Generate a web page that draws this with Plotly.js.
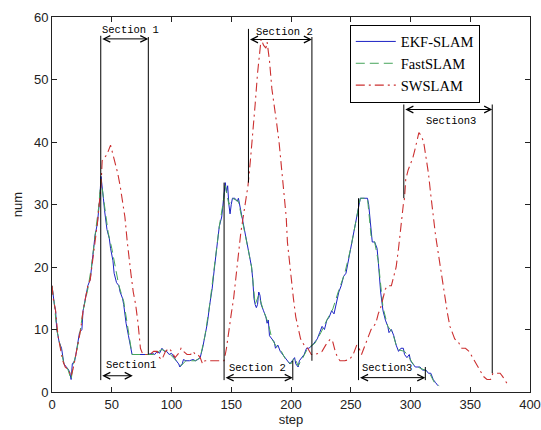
<!DOCTYPE html>
<html>
<head>
<meta charset="utf-8">
<script src="https://cdn.plot.ly/plotly-3.0.1.min.js"></script>
<style>html,body{margin:0;padding:0;background:#fff}#chart{width:541px;height:430px}</style>
</head>
<body>
<div id="chart"></div>
<script>
// ---- data ----
const ekfSteps = [0,1,2,3,4,5,6,8,9,10,12,14,15,16,17,19,20,22,23,25,26,28,30,32,33,35,36,38,39,40,41,42,43,44,45,46,48,49,51,52,54,56,57,59,60,61,62,64,66,67,70,75,80,84,86,88,90,92,94,96,98,100,102,104,106,107,109,110,112,115,118,120,122,124,126,128,130,132,134,136,138,139,140,142,143,144,145,146,147,148,149,150,151,153,155,156,158,160,162,164,166,167,168,169,170,171,172,173,174,175,177,179,180,181,182,184,186,187,189,191,193,195,197,199,201,203,204,206,207,209,211,213,215,218,220,222,224,226,228,230,232,234,236,238,240,242,244,246,248,250,252,254,256,257,258,260,262,264,265,266,267,268,270,272,273,274,275,276,277,279,281,282,284,286,288,290,292,294,295,297,299,300,302,304,308,310,313,315,317,319,321,323];
const ekfValues = [17,15,14,13,10,9,8,7,5.5,4.5,4,3.5,3,2,4.5,5,6,8,9.5,10,13,15,17,18,20,23,25,27,29,31,34.5,33,31,29,27,26,24.5,23,21,19,17.5,17,16,15,14,12.5,11,9,7,6,6,6,6,6.2,6,6.5,6.2,7,6.5,6.5,6,6.2,5.5,5,4.5,4,4.5,5.2,5,5,5.2,5,5.2,5.5,7,9,11,14,16.5,20,23,25,26.5,28,30,32,33.5,32,33,30,28.5,30,31,31,30.5,31,29,27,25,23,21,20,18,15,14,13.5,14,16,15.5,14,13,12,11,11.5,9,8.5,8,7,7.5,6.5,6,5.5,5,4.5,5,5.5,4.5,4,5,5.5,6,7,7,7.5,8,8.5,9.5,10.5,10,11.5,12,13,12.5,14.5,16,17,18.5,19,21,23,25,27,28.5,30,31,31,31,31,30,28,25,24,24,23,21,18,16,14.5,13,11.5,10.5,9.5,10,9,7.5,6.5,7,7,6,5.5,6,5,4.5,4,4,3.5,3.5,3,3,2,1.5,1];

const fastSteps = [0,2,4,6,8,10,13,16,18,20,23,26,30,33,36,39,41,44,47,50,53,56,60,63,67,75,85,92,98,104,108,112,120,124,128,132,136,140,143,145,148,151,156,160,164,167,170,173,177,181,184,187,192,196,200,203,206,210,214,220,225,230,235,240,245,250,254,258,264,267,270,273,277,281,285,288,291,295,299,302,306,312,316,320,324];
const fastValues = [17,14,10,8,6.5,4.5,3.8,2,4.5,6,9,13,16.5,20,25,29.5,34,29.5,25.5,23,20,17,14.5,10.5,6,6,6,6.8,6.2,5,4.2,5,5,5.5,9,14,20,26.5,30,33,30,31,30.5,27,23,20,14,15.5,13,11,8.5,7.5,6.5,5,4.5,5.5,4.2,5.5,7,7.8,9.5,11.5,13.3,16.3,19,23,27,31,31,25,24,21,13.5,10.5,9.5,7.5,6.7,6.5,5.5,4.5,4,3.5,3,1.5,1];

const swSteps = [0,1,3,5,7,9,11,14,16,18,20,22,24,26,28,30,32,34,36,38,40,41,42,44,46,47,49,51,53,55,57,59,61,63,64,66,68,70,72,73,74,76,79,82,85,88,90,92,95,98,100,103,106,108,110,113,116,118,120,122,124,126,128,131,134,138,141,144,146,148,150,152,154,156,158,160,162,164,166,168,170,172,174,175,177,179,180,182,184,186,188,190,192,194,196,197,198,200,202,204,206,208,211,214,217,220,223,226,229,231,233,235,237,239,241,245,249,252,255,257,259,261,263,265,267,269,271,273,275,277,279,281,284,286,288,290,292,294,295,296,298,300,302,304,306,307,309,311,313,315,317,319,321,323,325,327,329,331,333,335,337,340,343,346,349,352,355,358,361,364,367,369,372,375,377,380,382];
const swValues = [17,15,13,9,7,5,4,3.5,2.5,4,6,8,10,13,15,17,18,21,24,27,31,33,37,37.5,38,38.5,39.5,38,36.5,35,33,30.5,28,24,22,19,16,14,11,9,7,6,6,6,6.5,6.5,5.5,5.2,6.5,7,6.5,5.5,6.2,7,6.5,6,6,6.5,6,6,5.5,4.5,5,5,5,5,5,5,7,10,12.5,15,19,22,25.5,28,30,33,37,41,46,51,55,56.5,55.5,55,56,53,48.5,46,43,40,36,32,28,24,22,19,15,12,10,8.5,7.5,7,6,6,6.2,6.5,7.5,8,8.5,8,6.5,5.5,5,5,5.2,6,7.5,7,6,7,8,9,10,10.5,11,12.5,13.5,15,16.5,17,17,18.5,20,23,27,30,31,34,35.5,36.5,37.5,39,40.5,41.5,41,40,37.5,35,31.5,28,25,22.5,20,17,14.5,12.5,10.5,9.5,8.5,8,7,7,6.5,5.5,4.5,3.5,2.5,2,2,3,3,3,2.5,1.5,1];

const seriesNames = ['EKF-SLAM', 'FastSLAM', 'SWSLAM'];
const xTicks = [0,50,100,150,200,250,300,350,400];
const yTicks = [0,10,20,30,40,50,60];

// section markers (step, num)
const vLineX   = [40.8, 80.6, 164.4, 217.5, 294.4, 368.4, 144.0, 256.5, 201.5, 312.4];
const vLineY0  = [1.9,  6.0,  33.5,  5.0,   31.0,  3.0,   1.9,   1.9,   1.9,   1.9];
const vLineY1  = [57.0, 56.8, 58.1,  56.8,  46.0,  46.0,  33.5,  31.0,  5.0,   4.0];
const arrowX0  = [40.8, 164.4, 294.4, 40.8, 144.0, 256.5];
const arrowX1  = [80.6, 217.5, 368.4, 67.6, 201.5, 312.4];
const arrowY   = [56.5, 56.4, 45.2, 2.6, 2.3, 2.3];
const labelText = ['Section 1', 'Section 2', 'Section3', 'Section1', 'Section 2', 'Section3'];
const labelX    = [65.5, 194.8, 333.6, 66.0, 172.0, 280.0];
const labelY    = [57.9, 57.6, 43.3, 4.4, 3.9, 3.9];

// ---- traces ----
const traces = [
  {x: ekfSteps, y: ekfValues, name: seriesNames[0], mode: 'lines', type: 'scatter',
   line: {color: '#1c22c4', width: 1, shape: 'linear'}},
  {x: fastSteps, y: fastValues, name: seriesNames[1], mode: 'lines', type: 'scatter',
   line: {color: '#45a55a', width: 1, dash: '9px,5px'}},
  {x: swSteps, y: swValues, name: seriesNames[2], mode: 'lines', type: 'scatter',
   line: {color: '#cc3030', width: 1.1, dash: '9px,4px,2px,4px'}}
];

const shapes = vLineX.map((x, i) => ({
  type: 'line', xref: 'x', yref: 'y', x0: x, x1: x, y0: vLineY0[i], y1: vLineY1[i],
  line: {color: '#000', width: 1}
}));

const annotations = [];
arrowX0.forEach((x0, i) => {
  annotations.push({
    xref: 'x', yref: 'y', axref: 'x', ayref: 'y',
    x: arrowX1[i], y: arrowY[i], ax: x0, ay: arrowY[i],
    text: '', showarrow: true, arrowside: 'end+start',
    arrowhead: 5, arrowsize: 1.3, arrowwidth: 1, arrowcolor: '#000',
    standoff: 0, startstandoff: 0
  });
});
labelText.forEach((t, i) => {
  annotations.push({
    xref: 'x', yref: 'y', x: labelX[i], y: labelY[i], text: t, showarrow: false,
    font: {family: 'Liberation Mono, DejaVu Sans Mono, monospace', size: 10.5, color: '#000'},
    xanchor: 'center', yanchor: 'middle'
  });
});

const axisCommon = {
  showgrid: false, zeroline: false, showline: true, mirror: 'ticks',
  linecolor: '#222', linewidth: 1, ticks: 'inside', ticklen: 5, tickcolor: '#222',
  tickfont: {family: 'Arial, Liberation Sans, sans-serif', size: 13, color: '#222'}
};

const layout = {
  width: 541, height: 430,
  margin: {l: 52, r: 11, t: 17, b: 38},
  paper_bgcolor: '#fff', plot_bgcolor: '#fff',
  showlegend: true,
  legend: {
    x: 0.623, y: 0.98, xanchor: 'left', yanchor: 'top',
    bordercolor: '#000', borderwidth: 1, bgcolor: '#fff',
    font: {family: 'Liberation Serif, Times New Roman, serif', size: 14.5, color: '#000'},
    tracegroupgap: 0, itemwidth: 40, entrywidth: 110
  },
  xaxis: Object.assign({}, axisCommon, {
    range: [0, 400], tickvals: xTicks, ticktext: xTicks.map(String),
    title: {text: 'step', standoff: 2, font: {family: 'Arial, Liberation Sans, sans-serif', size: 13, color: '#222'}}
  }),
  yaxis: Object.assign({}, axisCommon, {
    range: [0, 60], tickvals: yTicks, ticktext: yTicks.map(String),
    title: {text: 'num', standoff: 8, font: {family: 'Arial, Liberation Sans, sans-serif', size: 13, color: '#222'}}
  }),
  shapes: shapes,
  annotations: annotations
};

Plotly.newPlot('chart', traces, layout, {displayModeBar: false, staticPlot: true});
</script>
</body>
</html>
